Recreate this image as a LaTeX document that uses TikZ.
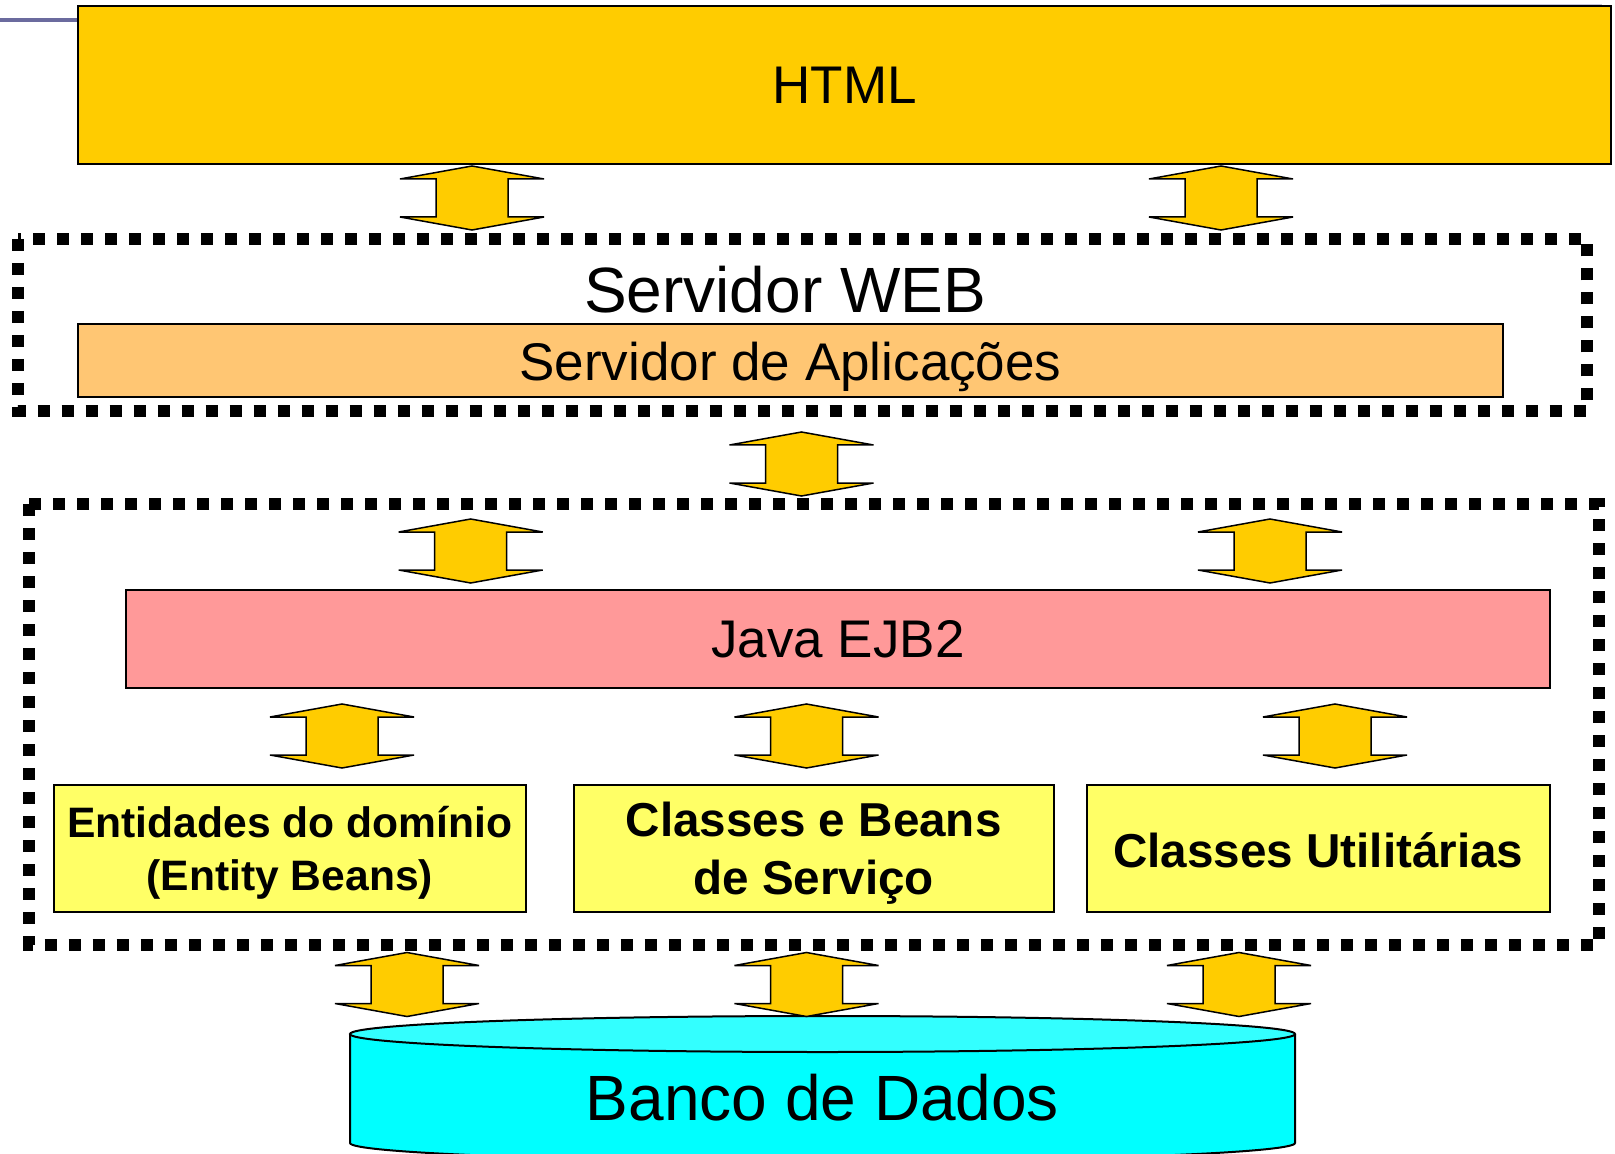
\documentclass[tikz,border=0pt]{standalone}
\usepackage{fontspec}
\setmainfont{Liberation Sans}
\definecolor{htmlgold}{HTML}{FFCC00}
\definecolor{aplorange}{HTML}{FFC673}
\definecolor{ejbpink}{HTML}{FF9999}
\definecolor{classyellow}{HTML}{FFFF66}
\definecolor{dbtop}{HTML}{33FFFF}
\definecolor{dbside}{HTML}{00FFFF}
\definecolor{slideline}{HTML}{6B6B9E}
\tikzset{
    layerbox/.style={draw=black, line width=1pt, inner sep=0pt},
    dotframe/.style={draw=black, line width=6pt, dash pattern=on 6pt off 6pt},
    dblarrow/.style={draw=black, line width=0.75pt, fill=htmlgold, line join=miter},
}
\newcommand{\bigfont}{\fontsize{32}{36}\selectfont}
\newcommand{\midfont}{\fontsize{26.5}{30}\selectfont}
\newcommand{\entityfont}{\fontsize{21.3}{26.3}\selectfont\bfseries}
\newcommand{\classfont}{\fontsize{23.8}{28.8}\selectfont\bfseries}
\newcommand{\lowered}[2]{\raisebox{-#1}[\height][\depth]{#2}}
\begin{document}
\begin{tikzpicture}[x=0.5pt,y=-0.5pt]
    \useasboundingbox (0,0) rectangle (1615,1154);
    \clip (0,0) rectangle (1615,1154);

    \draw[slideline, line width=2pt] (0,20) -- (78,20);
    \draw[slideline!40, line width=0.5pt] (1380,5) -- (1602,5);

    % layers
    \node[layerbox, fill=htmlgold, minimum width=766.5pt, minimum height=79pt,
          font=\midfont] (html) at (844.5,85) {HTML};

    \draw[dotframe] (17.5,239) rectangle (1587,411);
    \node[anchor=base, font=\bigfont] (web) at (785,313) {Servidor WEB};
    \node[layerbox, fill=aplorange, minimum width=712.5pt, minimum height=36.25pt,
          font=\midfont] (apl) at (790.5,360.75)
          {\lowered{3pt}{Servidor de Aplica\c{c}\~oes}};

    \draw[dotframe] (29,504) rectangle (1598.5,944.5);
    \node[layerbox, fill=ejbpink, minimum width=712.15pt, minimum height=49pt,
          font=\midfont] (ejb) at (838,639) {Java EJB2};

    \begin{scope}[every node/.style={layerbox, fill=classyellow, minimum height=63.25pt, align=center}]
        \node[minimum width=236.2pt, font=\entityfont, text depth=-1pt] (entity) at (289.8,848.25)
            {Entidades do dom\'inio\\(Entity Beans)};
        \node[minimum width=240pt, font=\classfont, text depth=0pt] (service) at (813.7,848.25)
            {Classes e Beans\\de Servi\c{c}o};
        \node[minimum width=231.7pt, font=\classfont] (util) at (1318.3,848.25)
            {\lowered{1pt}{Classes Utilit\'arias}};
    \end{scope}

    % database
    \filldraw[fill=dbside, line width=1pt] (350,1034) -- (350,1143)
        arc[start angle=180, end angle=0, x radius=472.5, y radius=18] -- (1295,1034);
    \filldraw[fill=dbtop, line width=1pt] (822.5,1034) ellipse[x radius=472.5, y radius=18];
    \node[font=\bigfont] (db) at (822.5,1098) {Banco de Dados};

    % arrows between layers
    \foreach \x/\y in {472/198, 1221/198, 801.5/464, 470.7/551, 1270/551,
                       342/736, 806.5/736, 1335/736, 407/984.5, 806.5/984.5, 1239/984.5} {
            \draw[dblarrow] (\x,\y) ++(0,-32) -- ++(72,13) -- ++(-36,0) -- ++(0,38)
                -- ++(36,0) -- ++(-72,13) -- ++(-72,-13) -- ++(36,0) -- ++(0,-38)
                -- ++(-36,0) -- cycle;
        }
\end{tikzpicture}
\end{document}
